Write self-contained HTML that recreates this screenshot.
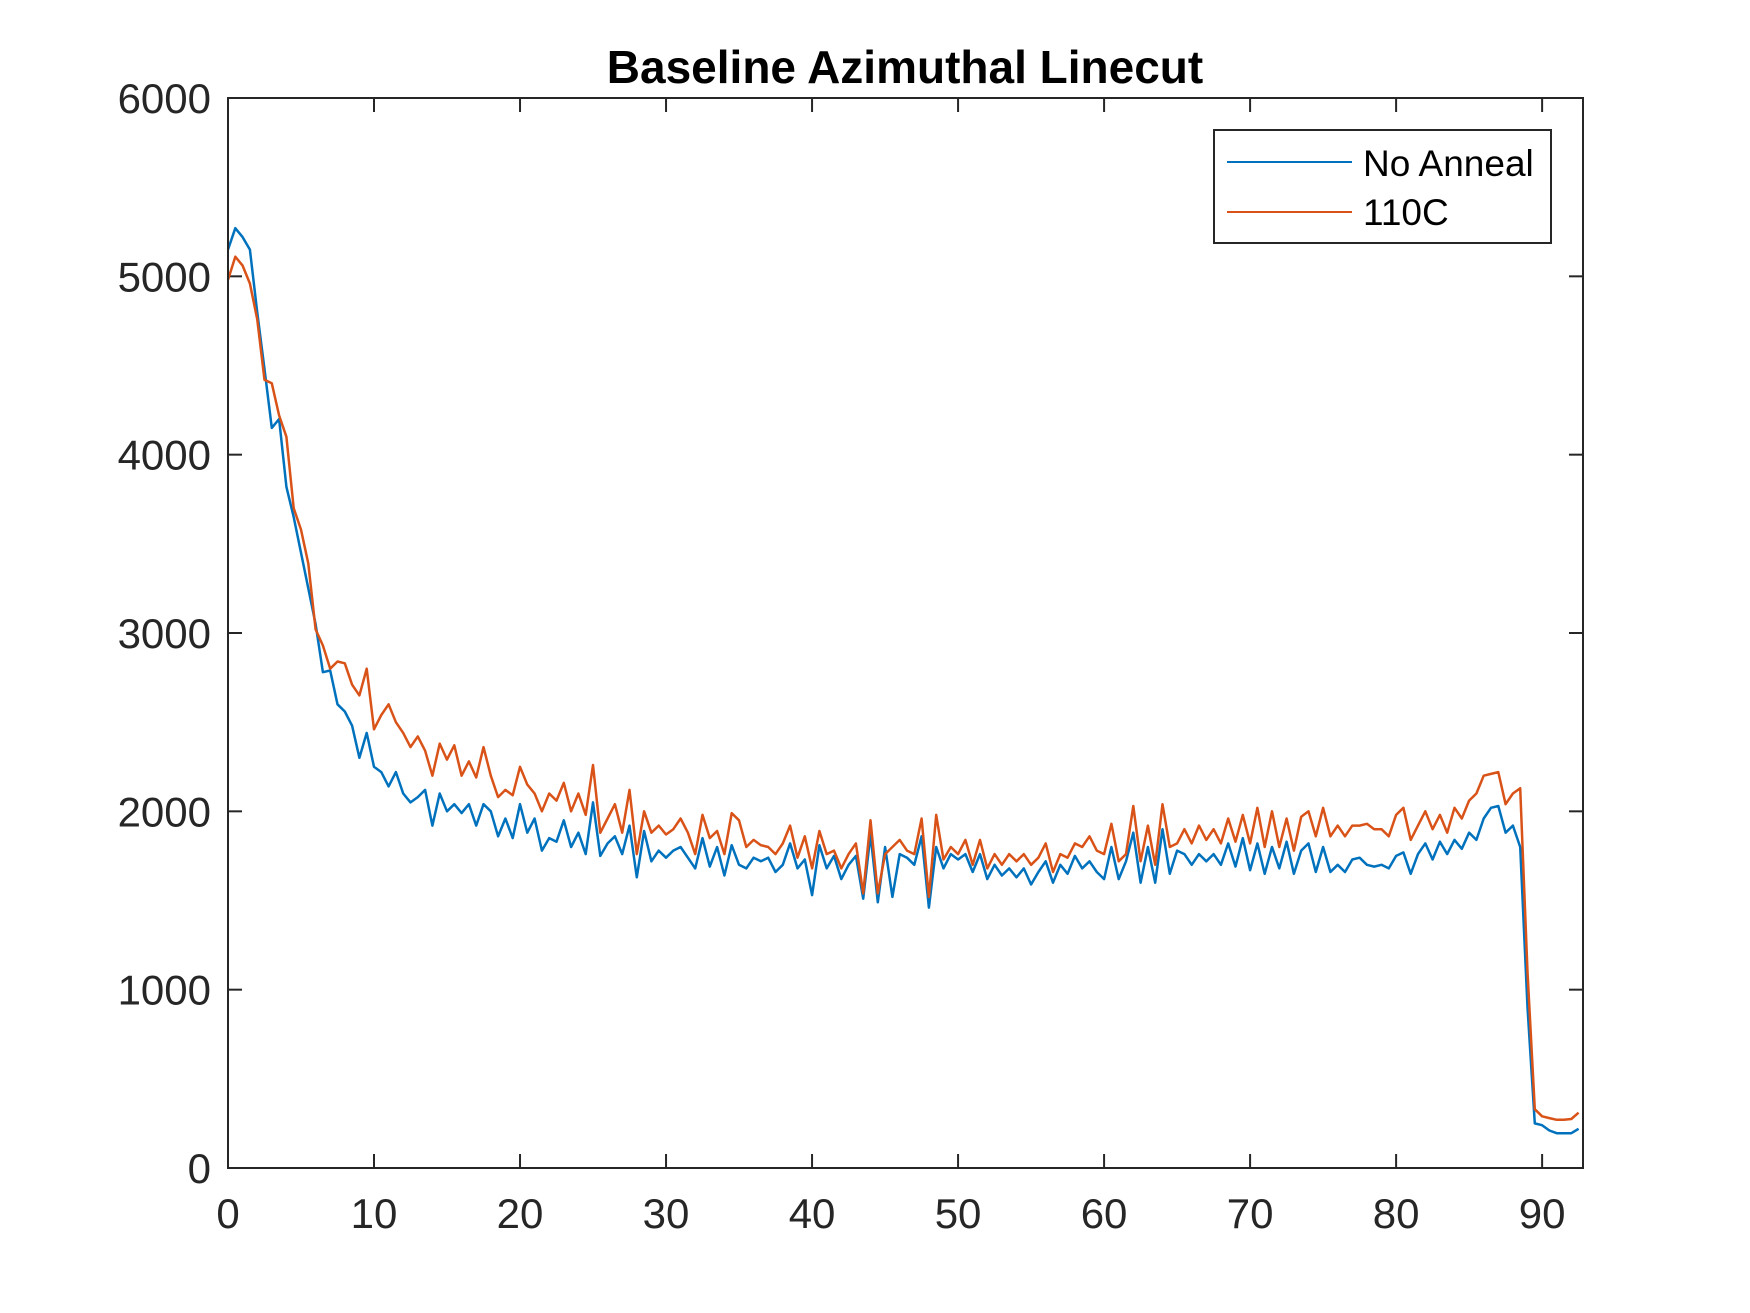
<!DOCTYPE html>
<html><head><meta charset="utf-8"><style>
body{margin:0;background:#fff}
svg{display:block;font-family:"Liberation Sans",Arial,sans-serif}
</style></head><body>
<svg id="chart" width="1750" height="1313" viewBox="0 0 1750 1313" xmlns="http://www.w3.org/2000/svg">
<rect width="1750" height="1313" fill="#fff"/>
<text x="905" y="83" text-anchor="middle" font-size="46" font-weight="bold" fill="#000">Baseline Azimuthal Linecut</text>
<g id="ticks"></g>
<g id="series"></g>
<rect x="228" y="98" width="1355" height="1070" fill="none" stroke="#262626" stroke-width="2"/>
<g>
<rect x="1214" y="130" width="337" height="113" fill="#fff" stroke="#262626" stroke-width="2"/>
<line x1="1227" y1="162" x2="1352" y2="162" stroke="#0072BD" stroke-width="2"/>
<text x="1363" y="176" font-size="37" fill="#000">No Anneal</text>
<line x1="1227" y1="212" x2="1352" y2="212" stroke="#D95319" stroke-width="2"/>
<text x="1363" y="225" font-size="37" fill="#000">110C</text>
</g>
</svg>
<script>
const xStart = 0, xStepDeg = 0.5;
const xTicks = [0,10,20,30,40,50,60,70,80,90];
const yTicks = [0,1000,2000,3000,4000,5000,6000];
const noAnneal = [5150,5270,5220,5150,4800,4480,4150,4200,3820,3650,3450,3250,3050,2780,2790,2600,2560,2480,2300,2440,2250,2220,2140,2220,2100,2050,2080,2120,1920,2100,2000,2040,1990,2040,1920,2040,2000,1860,1960,1850,2040,1880,1960,1780,1850,1830,1950,1800,1880,1760,2050,1750,1820,1860,1760,1920,1630,1890,1720,1780,1740,1780,1800,1740,1680,1850,1690,1800,1640,1810,1700,1680,1740,1720,1740,1660,1700,1820,1680,1730,1530,1810,1680,1750,1620,1700,1750,1510,1870,1490,1800,1520,1760,1740,1700,1860,1460,1800,1680,1760,1730,1760,1660,1760,1620,1700,1640,1680,1630,1680,1590,1660,1720,1600,1700,1650,1750,1680,1720,1660,1620,1800,1620,1720,1880,1600,1800,1600,1900,1650,1780,1760,1700,1760,1720,1760,1700,1820,1690,1850,1670,1820,1650,1800,1680,1830,1650,1780,1820,1660,1800,1660,1700,1660,1730,1740,1700,1690,1700,1680,1750,1770,1650,1760,1820,1730,1830,1760,1840,1790,1880,1840,1960,2020,2030,1880,1920,1800,900,250,240,210,195,195,195,220];
const anneal110C = [4980,5110,5060,4960,4760,4420,4400,4220,4100,3700,3580,3390,3020,2930,2800,2840,2830,2710,2650,2800,2460,2540,2600,2500,2440,2360,2420,2340,2200,2380,2290,2370,2200,2280,2190,2360,2200,2080,2120,2090,2250,2150,2100,2000,2100,2060,2160,2000,2100,1980,2260,1880,1960,2040,1880,2120,1760,2000,1880,1920,1870,1900,1960,1880,1760,1980,1850,1890,1760,1990,1950,1800,1840,1810,1800,1760,1820,1920,1740,1860,1680,1890,1760,1780,1680,1760,1820,1540,1950,1540,1760,1800,1840,1780,1760,1960,1520,1980,1730,1800,1760,1840,1700,1840,1680,1760,1700,1760,1720,1760,1700,1740,1820,1660,1760,1740,1820,1800,1860,1780,1760,1930,1720,1760,2030,1720,1920,1700,2040,1800,1820,1900,1820,1920,1840,1900,1820,1960,1830,1980,1820,2020,1800,2000,1800,1960,1780,1970,2000,1860,2020,1860,1920,1860,1920,1920,1930,1900,1900,1860,1980,2020,1840,1920,2000,1900,1980,1880,2020,1960,2060,2100,2200,2210,2220,2040,2100,2130,1100,330,290,280,270,270,275,310];

const L=228,R=1583,T=98,B=1168,XMAX=92.8,YMAX=6000;
const sx=v=>L+(v/XMAX)*(R-L);
const sy=v=>B-(v/YMAX)*(B-T);
const NS='http://www.w3.org/2000/svg';
const tg=document.getElementById('ticks');
xTicks.forEach(t=>{
  const x=sx(t);
  [[B,B-14],[T,T+14]].forEach(([a,b])=>{
    const l=document.createElementNS(NS,'line');
    l.setAttribute('x1',x);l.setAttribute('x2',x);l.setAttribute('y1',a);l.setAttribute('y2',b);
    l.setAttribute('stroke','#262626');l.setAttribute('stroke-width','2');
    
    
    tg.appendChild(l);
  });
  const tx=document.createElementNS(NS,'text');
  tx.setAttribute('x',x);tx.setAttribute('y',1228);tx.setAttribute('text-anchor','middle');
  tx.setAttribute('font-size','42');tx.setAttribute('fill','#262626');
  tx.textContent=t;
  
  
  tg.appendChild(tx);
});
yTicks.forEach(t=>{
  const y=sy(t);
  [[L,L+14],[R,R-14]].forEach(([a,b])=>{
    const l=document.createElementNS(NS,'line');
    l.setAttribute('x1',a);l.setAttribute('x2',b);l.setAttribute('y1',y);l.setAttribute('y2',y);
    l.setAttribute('stroke','#262626');l.setAttribute('stroke-width','2');
    
    
    tg.appendChild(l);
  });
  const tx=document.createElementNS(NS,'text');
  tx.setAttribute('x',211);tx.setAttribute('y',y+15);tx.setAttribute('text-anchor','end');
  tx.setAttribute('font-size','42');tx.setAttribute('fill','#262626');
  tx.textContent=t;
  
  
  tg.appendChild(tx);
});
const sg=document.getElementById('series');
function draw(vals,color,name){
  const pts=vals.map((v,i)=>sx(xStart+i*xStepDeg).toFixed(1)+','+sy(v).toFixed(1)).join(' ');
  const p=document.createElementNS(NS,'polyline');
  p.setAttribute('points',pts);p.setAttribute('fill','none');
  p.setAttribute('stroke',color);p.setAttribute('stroke-width','2.5');p.setAttribute('stroke-linejoin','round');
  
  
  sg.appendChild(p);
}
draw(noAnneal,'#0072BD','series-no-anneal');
draw(anneal110C,'#D95319','series-110c');
</script>
</body></html>
